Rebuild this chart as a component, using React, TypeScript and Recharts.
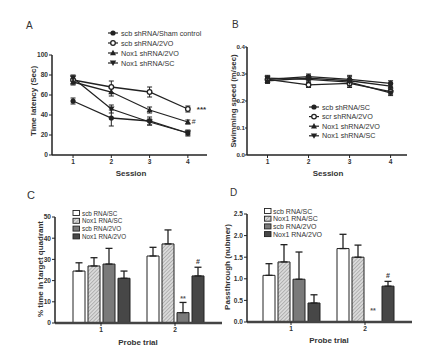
import React from 'react';
import { LineChart, Line, XAxis, YAxis, ErrorBar, BarChart, Bar, LabelList } from 'recharts';

// ---------- Panel A: escape latency ----------
const sessions = [1, 2, 3, 4];
const latencyNames = ['scb shRNA/Sham control', 'scb shRNA/2VO', 'Nox1 shRNA/2VO', 'Nox1 shRNA/SC'];
const latShamMean = [54, 37, 34, 22];
const latShamErr = [3, 8, 4, 3];
const latScb2voMean = [75, 68, 63, 46];
const latScb2voErr = [4, 6, 5, 3];
const latNox2voMean = [73, 63, 45, 33];
const latNox2voErr = [3, 4, 3, 2];
const latNoxScMean = [77, 46, 33, 22];
const latNoxScErr = [3, 4, 3, 2];
const latScb2voMarks = ['', '', '', '***'];
const latNox2voMarks = ['', '', '', '#'];
const latencyTicks = [0, 20, 40, 60, 80, 100];

// ---------- Panel B: swimming speed ----------
const speedNames = ['scb shRNA/SC', 'scr shRNA/2VO', 'Nox1 shRNA/2VO', 'Nox1 shRNA/SC'];
const spdScbScMean = [0.28, 0.29, 0.28, 0.265];
const spdScbScErr = [0.01, 0.01, 0.01, 0.01];
const spdScr2voMean = [0.28, 0.26, 0.265, 0.235];
const spdScr2voErr = [0.01, 0.01, 0.015, 0.01];
const spdNox2voMean = [0.275, 0.285, 0.275, 0.255];
const spdNox2voErr = [0.01, 0.01, 0.02, 0.01];
const spdNoxScMean = [0.285, 0.28, 0.27, 0.23];
const spdNoxScErr = [0.01, 0.01, 0.01, 0.01];
const speedTicks = [0, 0.1, 0.2, 0.3, 0.4];

// ---------- Panel C: % time in target quadrant ----------
const probeTrials = ['1', '2'];
const barNamesC = ['scb RNA/SC', 'Nox1 RNA/SC', 'scb RNA/2VO', 'Nox1 RNA/2VO'];
const quadScbSc = [24.5, 31.6];
const quadScbScErr = [3.9, 4.1];
const quadNoxSc = [26.9, 37.3];
const quadNoxScErr = [3.9, 6.6];
const quadScb2vo = [27.8, 4.9];
const quadScb2voErr = [7.4, 4.8];
const quadNox2vo = [21.1, 22.2];
const quadNox2voErr = [3.4, 4.1];
const quadScb2voMarks = ['', '**'];
const quadNox2voMarks = ['', '#'];
const quadTicks = [0, 10, 20, 30, 40, 50];

// ---------- Panel D: passthrough number ----------
const barNamesD = ['scb RNA/SC', 'Nox1 RNA/SC', 'scb RNA/2VO', 'Nox1 RNA/2VO'];
const passScbSc = [1.08, 1.7];
const passScbScErr = [0.27, 0.33];
const passNoxSc = [1.39, 1.5];
const passNoxScErr = [0.4, 0.28];
const passScb2vo = [0.99, 0];
const passScb2voErr = [0.63, 0];
const passNox2vo = [0.44, 0.83];
const passNox2voErr = [0.19, 0.11];
const passScb2voMarks = ['', '**'];
const passNox2voMarks = ['', '#'];
const passTicks = [0, 0.5, 1.0, 1.5, 2.0, 2.5];

const FONT = "'Liberation Sans', Arial, sans-serif";
const INK = '#222';
const TXT = '#333';

const latencyData = sessions.map((s, i) => ({
  session: s,
  sham: latShamMean[i], shamErr: latShamErr[i],
  scb2vo: latScb2voMean[i], scb2voErr: latScb2voErr[i], scb2voMark: latScb2voMarks[i],
  nox2vo: latNox2voMean[i], nox2voErr: latNox2voErr[i], nox2voMark: latNox2voMarks[i],
  noxSc: latNoxScMean[i], noxScErr: latNoxScErr[i],
}));

const speedData = sessions.map((s, i) => ({
  session: s,
  scbSc: spdScbScMean[i], scbScErr: spdScbScErr[i],
  scr2vo: spdScr2voMean[i], scr2voErr: spdScr2voErr[i],
  nox2vo: spdNox2voMean[i], nox2voErr: spdNox2voErr[i],
  noxSc: spdNoxScMean[i], noxScErr: spdNoxScErr[i],
}));

const quadData = probeTrials.map((t, i) => ({
  trial: t,
  scbSc: quadScbSc[i], scbScErr: [0, quadScbScErr[i]],
  noxSc: quadNoxSc[i], noxScErr: [0, quadNoxScErr[i]],
  scb2vo: quadScb2vo[i], scb2voErr: [0, quadScb2voErr[i]], scb2voMark: quadScb2voMarks[i],
  nox2vo: quadNox2vo[i], nox2voErr: [0, quadNox2voErr[i]], nox2voMark: quadNox2voMarks[i],
}));

const passData = probeTrials.map((t, i) => ({
  trial: t,
  scbSc: passScbSc[i], scbScErr: [0, passScbScErr[i]],
  noxSc: passNoxSc[i], noxScErr: [0, passNoxScErr[i]],
  scb2vo: passScb2vo[i], scb2voErr: [0, passScb2voErr[i]], scb2voMark: passScb2voMarks[i],
  nox2vo: passNox2vo[i], nox2voErr: [0, passNox2voErr[i]], nox2voMark: passNox2voMarks[i],
}));

type Kind = 'filled' | 'open' | 'up' | 'down';
const markerPath = (kind: Kind, cx: number, cy: number, key?: any) => {
  switch (kind) {
    case 'filled':
      return <circle key={key} cx={cx} cy={cy} r={2.6} fill={INK} />;
    case 'open':
      return <circle key={key} cx={cx} cy={cy} r={2.3} fill="#fff" stroke={INK} strokeWidth={1.3} />;
    case 'up':
      return <path key={key} d={`M${cx},${cy - 3.2}L${cx + 3},${cy + 2.2}L${cx - 3},${cy + 2.2}Z`} fill={INK} />;
    case 'down':
    default:
      return <path key={key} d={`M${cx - 3.2},${cy - 2.4}L${cx + 3.2},${cy - 2.4}L${cx},${cy + 3}Z`} fill={INK} />;
  }
};
const dotFor = (kind: Kind) => (props: any) => {
  const { cx, cy, index } = props;
  if (cx == null || cy == null) return <g key={index} />;
  return markerPath(kind, cx, cy, index);
};
const kinds: Kind[] = ['filled', 'open', 'up', 'down'];

const tickStyle = { fontSize: 6.6, fontWeight: 700, fill: TXT, fontFamily: FONT };
const tickStyleB = { fontSize: 6.2, fontWeight: 700, fill: TXT, fontFamily: FONT };
const axisLine = { stroke: INK, strokeWidth: 1.5 };
const barAxisLine = { stroke: '#444', strokeWidth: 2.5 };
const markStyle = { fontSize: 7, fontWeight: 700, fill: TXT, fontFamily: FONT };

// "**" drawn in the slot of the absent neighbouring bar, left of the bar it sits next to
const makeNeighbourMark = (marks: string[], gap: number, lift: number) => (props: any) => {
  const { x, y, height, index } = props;
  const m = marks[index];
  if (!m) return null;
  return (
    <text key={'nm' + index} x={x - gap} y={y + height - lift} textAnchor="middle" style={{ ...markStyle, fill: '#555' }}>{m}</text>
  );
};

const LineLegend = ({ x, y, names, step, fs }: { x: number; y: number; names: string[]; step: number; fs: number }) => (
  <g>
    {names.map((n, i) => (
      <g key={n}>
        <line x1={x - 5} x2={x + 5} y1={y + i * step} y2={y + i * step} stroke={INK} strokeWidth={1.2} />
        {markerPath(kinds[i], x, y + i * step)}
        <text x={x + 8} y={y + i * step} dominantBaseline="central" fontSize={fs} fill={TXT} fontFamily={FONT}>{n}</text>
      </g>
    ))}
  </g>
);

const barFills = ['#ffffff', 'url(#hatchLeg)', '#7a7a7a', '#474747'];

const HatchDefs = ({ id }: { id: string }) => (
  <defs>
    <pattern id={id} patternUnits="userSpaceOnUse" width={2.6} height={2.6} patternTransform="rotate(45)">
      <rect width={2.6} height={2.6} fill="#dadada" />
      <line x1={0} y1={0} x2={0} y2={2.6} stroke="#8a8a8a" strokeWidth={1} />
    </pattern>
  </defs>
);

export default function App() {
  return (
    <div style={{ position: 'absolute', left: 0, top: 0, width: 425, height: 358, background: '#fff', fontFamily: FONT }}>
      {/* Panel A */}
      <div style={{ position: 'absolute', left: 0, top: 0 }}>
        <LineChart width={212} height={175} data={latencyData} margin={{ top: 55, right: 5, left: 0, bottom: 0 }}>
          <XAxis type="number" dataKey="session" domain={[0.45, 4.5]} allowDataOverflow ticks={sessions} height={20}
            tickSize={3} tickMargin={1} tick={tickStyle} axisLine={axisLine} tickLine={{ stroke: INK }} />
          <YAxis type="number" domain={[0, 100]} allowDataOverflow ticks={latencyTicks} width={52} tickSize={3} tickMargin={1}
            tick={tickStyle} axisLine={axisLine} tickLine={{ stroke: INK }} />
          <Line dataKey="sham" stroke={INK} strokeWidth={1.3} dot={dotFor('filled')} isAnimationActive={false}>
            <ErrorBar dataKey="shamErr" direction="y" width={2.5} stroke={INK} strokeWidth={1} />
          </Line>
          <Line dataKey="scb2vo" stroke={INK} strokeWidth={1.3} dot={dotFor('open')} isAnimationActive={false}>
            <ErrorBar dataKey="scb2voErr" direction="y" width={2.5} stroke={INK} strokeWidth={1} />
            <LabelList dataKey="scb2voMark" position="right" offset={9} style={{ fontSize: 8, fontWeight: 700, fill: TXT, fontFamily: FONT }} />
          </Line>
          <Line dataKey="nox2vo" stroke={INK} strokeWidth={1.3} dot={dotFor('up')} isAnimationActive={false}>
            <ErrorBar dataKey="nox2voErr" direction="y" width={2.5} stroke={INK} strokeWidth={1} />
            <LabelList dataKey="nox2voMark" position="right" offset={4} style={{ fontSize: 7, fill: TXT, fontFamily: FONT }} />
          </Line>
          <Line dataKey="noxSc" stroke={INK} strokeWidth={1.3} dot={dotFor('down')} isAnimationActive={false}>
            <ErrorBar dataKey="noxScErr" direction="y" width={2.5} stroke={INK} strokeWidth={1} />
          </Line>
        </LineChart>
      </div>

      {/* Panel B */}
      <div style={{ position: 'absolute', left: 212, top: 0 }}>
        <LineChart width={213} height={175} data={speedData} margin={{ top: 47, right: 18, left: 0, bottom: 0 }}>
          <XAxis type="number" dataKey="session" domain={[0.5, 4.4]} allowDataOverflow ticks={sessions} height={20}
            tickSize={3} tickMargin={1} tick={tickStyle} axisLine={axisLine} tickLine={{ stroke: INK }} />
          <YAxis type="number" domain={[0, 0.4]} allowDataOverflow ticks={speedTicks} width={35} tickSize={2} tickMargin={0}
            tick={tickStyleB} axisLine={axisLine} tickLine={{ stroke: INK }} tickFormatter={(v: number) => v.toFixed(1)} />
          <Line dataKey="scbSc" stroke={INK} strokeWidth={1.3} dot={dotFor('filled')} isAnimationActive={false}>
            <ErrorBar dataKey="scbScErr" direction="y" width={2.5} stroke={INK} strokeWidth={1} />
          </Line>
          <Line dataKey="scr2vo" stroke={INK} strokeWidth={1.3} dot={dotFor('open')} isAnimationActive={false}>
            <ErrorBar dataKey="scr2voErr" direction="y" width={2.5} stroke={INK} strokeWidth={1} />
          </Line>
          <Line dataKey="nox2vo" stroke={INK} strokeWidth={1.3} dot={dotFor('up')} isAnimationActive={false}>
            <ErrorBar dataKey="nox2voErr" direction="y" width={2.5} stroke={INK} strokeWidth={1} />
          </Line>
          <Line dataKey="noxSc" stroke={INK} strokeWidth={1.3} dot={dotFor('down')} isAnimationActive={false}>
            <ErrorBar dataKey="noxScErr" direction="y" width={2.5} stroke={INK} strokeWidth={1} />
          </Line>
        </LineChart>
      </div>

      {/* Panel C */}
      <div style={{ position: 'absolute', left: 0, top: 175 }}>
        <BarChart width={225} height={165} data={quadData} margin={{ top: 42, right: 3, left: 0, bottom: 0 }} barSize={12} barGap={3}>
          <HatchDefs id="hatchPat" />
          <XAxis dataKey="trial" padding={{ left: 9, right: 10 }} height={17} tickSize={3} tickMargin={1}
            tick={tickStyle} axisLine={barAxisLine} tickLine={{ stroke: INK }} />
          <YAxis type="number" domain={[0, 50]} allowDataOverflow ticks={quadTicks} width={55} tickSize={3} tickMargin={1}
            tick={tickStyle} axisLine={axisLine} tickLine={{ stroke: INK }} />
          <Bar dataKey="scbSc" fill="#ffffff" stroke={INK} strokeWidth={1} isAnimationActive={false}>
            <ErrorBar dataKey="scbScErr" direction="y" width={3.5} stroke={INK} strokeWidth={1.3} />
          </Bar>
          <Bar dataKey="noxSc" fill="url(#hatchPat)" stroke={INK} strokeWidth={1} isAnimationActive={false}>
            <ErrorBar dataKey="noxScErr" direction="y" width={3.5} stroke={INK} strokeWidth={1.3} />
          </Bar>
          <Bar dataKey="scb2vo" fill="#7a7a7a" stroke={INK} strokeWidth={1} isAnimationActive={false}>
            <ErrorBar dataKey="scb2voErr" direction="y" width={3.5} stroke={INK} strokeWidth={1.3} />
            <LabelList dataKey="scb2voMark" position="top" offset={12} style={{ ...markStyle, fill: '#555' }} />
          </Bar>
          <Bar dataKey="nox2vo" fill="#474747" stroke={INK} strokeWidth={1} isAnimationActive={false}>
            <ErrorBar dataKey="nox2voErr" direction="y" width={3.5} stroke={INK} strokeWidth={1.3} />
            <LabelList dataKey="nox2voMark" position="top" offset={12} style={markStyle} />
          </Bar>
        </BarChart>
      </div>

      {/* Panel D */}
      <div style={{ position: 'absolute', left: 212, top: 175 }}>
        <BarChart width={213} height={165} data={passData} margin={{ top: 39, right: 13, left: 0, bottom: 0 }} barSize={12} barGap={3}>
          <HatchDefs id="hatchPatD" />
          <XAxis dataKey="trial" padding={{ left: 7, right: 10 }} height={18} tickSize={3} tickMargin={1}
            tick={tickStyle} axisLine={barAxisLine} tickLine={{ stroke: INK }} />
          <YAxis type="number" domain={[0, 2.5]} allowDataOverflow ticks={passTicks} width={35} tickSize={3} tickMargin={1}
            tick={tickStyle} axisLine={axisLine} tickLine={{ stroke: INK }} tickFormatter={(v: number) => v.toFixed(1)} />
          <Bar dataKey="scbSc" fill="#ffffff" stroke={INK} strokeWidth={1} isAnimationActive={false}>
            <ErrorBar dataKey="scbScErr" direction="y" width={3.5} stroke={INK} strokeWidth={1.3} />
          </Bar>
          <Bar dataKey="noxSc" fill="url(#hatchPatD)" stroke={INK} strokeWidth={1} isAnimationActive={false}>
            <ErrorBar dataKey="noxScErr" direction="y" width={3.5} stroke={INK} strokeWidth={1.3} />
          </Bar>
          <Bar dataKey="scb2vo" fill="#7a7a7a" stroke={INK} strokeWidth={1} isAnimationActive={false}>
            <ErrorBar dataKey="scb2voErr" direction="y" width={3.5} stroke={INK} strokeWidth={1.3} />
          </Bar>
          <Bar dataKey="nox2vo" fill="#474747" stroke={INK} strokeWidth={1} isAnimationActive={false}>
            <ErrorBar dataKey="nox2voErr" direction="y" width={3.5} stroke={INK} strokeWidth={1.3} />
            <LabelList dataKey="nox2voMark" position="top" offset={8} style={markStyle} />
            <LabelList dataKey="scb2voMark" content={makeNeighbourMark(passScb2voMarks, 9, 9)} />
          </Bar>
        </BarChart>
      </div>

      {/* Overlay: panel letters, axis titles, legends */}
      <svg width={425} height={358} style={{ position: 'absolute', left: 0, top: 0, pointerEvents: 'none' }}>
        <defs>
          <pattern id="hatchLeg" patternUnits="userSpaceOnUse" width={2.6} height={2.6} patternTransform="rotate(45)">
            <rect width={2.6} height={2.6} fill="#dadada" />
            <line x1={0} y1={0} x2={0} y2={2.6} stroke="#8a8a8a" strokeWidth={1} />
          </pattern>
        </defs>
        <g fontFamily={FONT} fill={TXT}>
          <text x={26} y={28.5} fontSize={10}>A</text>
          <text x={232} y={27.5} fontSize={10}>B</text>
          <text x={27} y={198.5} fontSize={11}>C</text>
          <text x={230} y={195.5} fontSize={10}>D</text>

          <text transform="translate(33,101) rotate(-90)" textAnchor="middle" dominantBaseline="central" fontSize={8} fontWeight={700}>Time latency (Sec)</text>
          <text transform="translate(233.5,101) rotate(-90)" textAnchor="middle" dominantBaseline="central" fontSize={7.8} fontWeight={700}>Swimming speed (m/sec)</text>
          <text transform="translate(40,269) rotate(-90)" textAnchor="middle" dominantBaseline="central" fontSize={8} fontWeight={700}>% time in target quadrant</text>
          <text transform="translate(227,267) rotate(-90)" textAnchor="middle" dominantBaseline="central" fontSize={8} fontWeight={700}>Passthrough (nubmer)</text>

          <text x={131} y={173} textAnchor="middle" dominantBaseline="central" fontSize={8} fontWeight={700}>Session</text>
          <text x={328} y={173} textAnchor="middle" dominantBaseline="central" fontSize={8} fontWeight={700}>Session</text>
          <text x={138} y={342} textAnchor="middle" dominantBaseline="central" fontSize={8} fontWeight={700}>Probe trial</text>
          <text x={329} y={340} textAnchor="middle" dominantBaseline="central" fontSize={8} fontWeight={700}>Probe trial</text>
        </g>
        <LineLegend x={113} y={33} names={latencyNames} step={10} fs={7.2} />
        <LineLegend x={314} y={107} names={speedNames} step={9.6} fs={7.2} />
        <g>
          {barNamesC.map((n, i) => (
            <g key={'c' + i}>
              <rect x={73} y={213 + i * 7.8 - 2.5} width={6.5} height={5} fill={barFills[i]} stroke={INK} strokeWidth={0.9} />
              <text x={82} y={213 + i * 7.8} dominantBaseline="central" fontSize={6.3} fill={TXT} fontFamily={FONT}>{n}</text>
            </g>
          ))}
          {barNamesD.map((n, i) => (
            <g key={'d' + i}>
              <rect x={264.5} y={211 + i * 7.7 - 2.5} width={6.5} height={5} fill={barFills[i]} stroke={INK} strokeWidth={0.9} />
              <text x={273} y={211 + i * 7.7} dominantBaseline="central" fontSize={7} fill={TXT} fontFamily={FONT}>{n}</text>
            </g>
          ))}
        </g>
      </svg>
    </div>
  );
}
